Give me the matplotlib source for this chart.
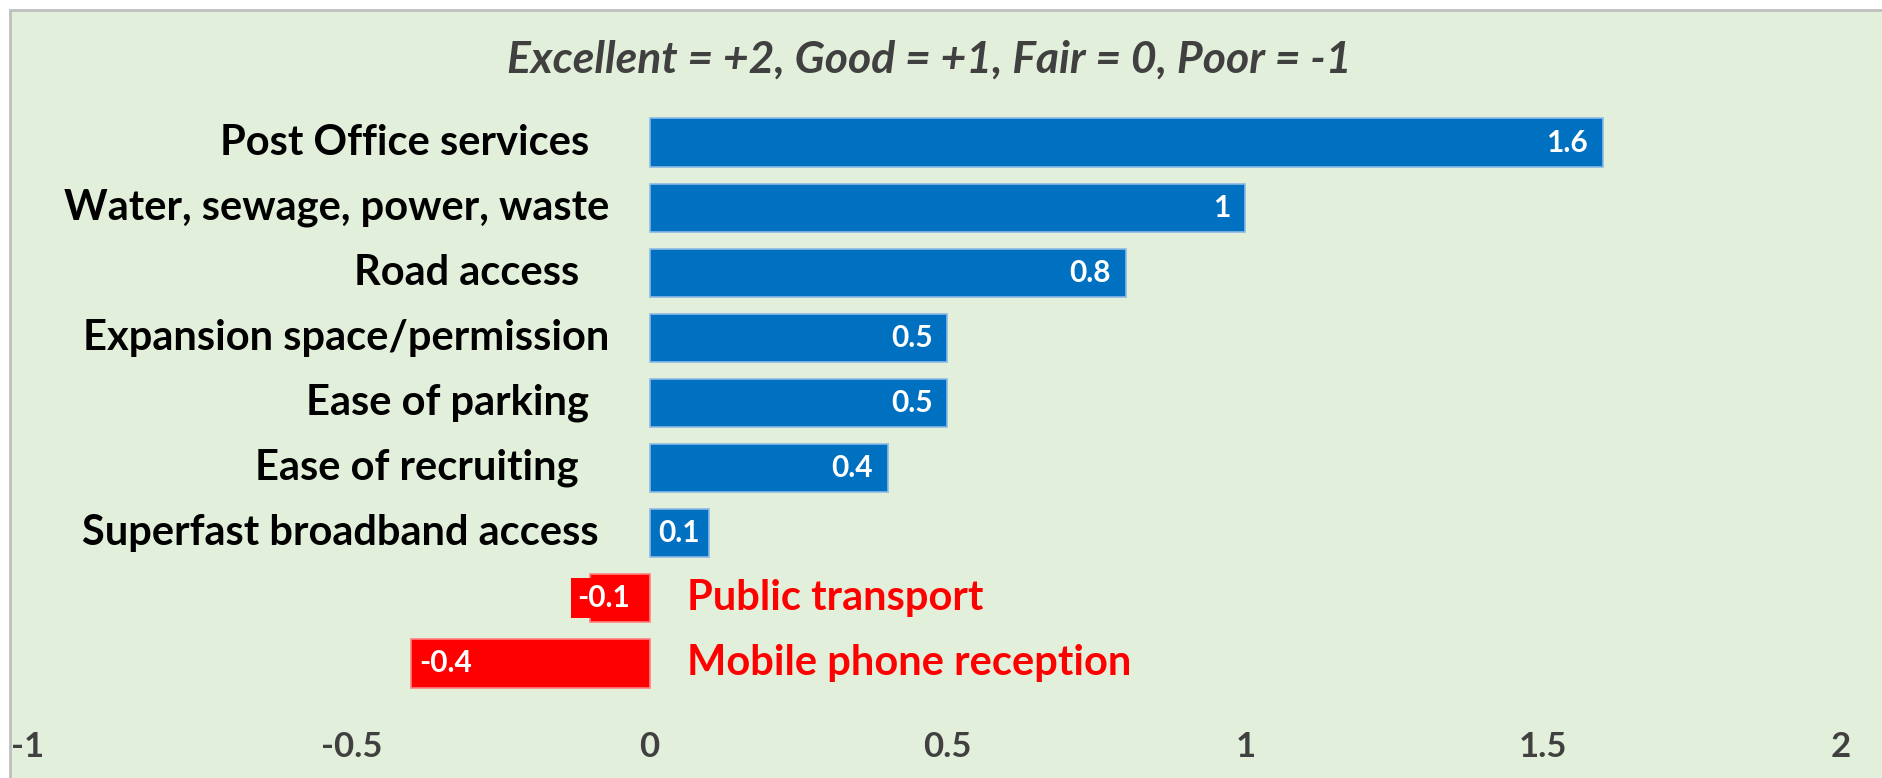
import numpy as np
import matplotlib.pyplot as plt
import matplotlib.transforms as mtransforms
from matplotlib.patches import Rectangle

# dados
categories = ["Post Office services  ", "Water, sewage, power, waste", "Road access   ",
              "Expansion space/permission", "Ease of parking  ", "Ease of recruiting   ",
              "Superfast broadband access ", "Public transport", "Mobile phone reception"]
values = [1.6, 1.0, 0.8, 0.5, 0.5, 0.4, 0.1, -0.1, -0.4]
xticks = [-1, -0.5, 0, 0.5, 1, 1.5, 2]
title = "Excellent = +2, Good = +1, Fair = 0, Poor = -1"

blue = "#0070C0"
red = "#FF0000"
bg = "#E2EFDA"
grey_txt = "#404040"

plt.rcParams['font.family'] = ['Lato', 'DejaVu Sans']

W, H = 1883, 778
fig = plt.figure(figsize=(W / 100, H / 100), dpi=100)
fig.patch.set_facecolor("white")

# painel verde com borda cinza
fig.patches.append(Rectangle((10 / W, -0.01), 1.0, 1 - 10 / H + 0.01,
                             transform=fig.transFigure, facecolor=bg,
                             edgecolor="#BFBFBF", linewidth=2, zorder=-10))

ax = fig.add_axes([54 / W, 1 - 696 / H, (1841 - 54) / W, (696 - 110) / H])
ax.set_facecolor("none")

y = np.arange(len(values))
colors = [blue if v >= 0 else red for v in values]
edges = ["#8DB9E6" if v >= 0 else "#FF8080" for v in values]
ax.barh(y, values, height=0.74, color=colors, edgecolor=edges, linewidth=1.2, zorder=2)

ax.set_xlim(-1, 2)
ax.set_ylim(len(values) - 0.5, -0.5)
ax.set_xticks(xticks)
ax.set_xticklabels(["{:g}".format(t) for t in xticks])
ax.tick_params(axis="x", length=0, pad=25, labelsize=25, labelcolor=grey_txt)
for lab in ax.get_xticklabels():
    lab.set_fontweight("bold")
# o "-1" fica encostado na borda, como no original
first = ax.get_xticklabels()[0]
first.set_transform(first.get_transform() +
                    mtransforms.ScaledTranslation(-0.26, 0, fig.dpi_scale_trans))
ax.set_yticks([])
for s in ax.spines.values():
    s.set_visible(False)

# rotulos das categorias
for yi, (cat, v) in enumerate(zip(categories, values)):
    if v >= 0:
        ax.text(-0.068, yi, cat, ha="right", va="center", fontsize=30,
                fontweight="bold", color="black")
    else:
        ax.text(0.062, yi, cat, ha="left", va="center", fontsize=30,
                fontweight="bold", color=red)

# valores nas barras (barras curtas: rotulo centrado / saindo pela esquerda)
for yi, v in enumerate(values):
    txt = "{:g}".format(v)
    narrow = abs(v) < 0.2
    if v >= 0:
        if narrow:
            ax.text(v / 2, yi, txt, ha="center", va="center", fontsize=21.5,
                    fontweight="bold", color="white", zorder=3)
        else:
            ax.annotate(txt, (v, yi), xytext=(-15, 0), textcoords="offset pixels",
                        ha="right", va="center", fontsize=21.5, fontweight="bold",
                        color="white", zorder=3)
    else:
        off = -13 if narrow else 8
        ax.annotate(txt, (v, yi), xytext=(off, 0), textcoords="offset pixels",
                    ha="left", va="center", fontsize=21.5, fontweight="bold",
                    color="white", zorder=3,
                    bbox=dict(boxstyle="square,pad=0.2", fc=red, ec="none"))

fig.text(929 / W, 1 - 60 / H, title, ha="center", va="center", fontsize=32,
         fontweight="bold", fontstyle="italic", color=grey_txt)

plt.savefig("out.png", dpi=100, facecolor=fig.get_facecolor())
